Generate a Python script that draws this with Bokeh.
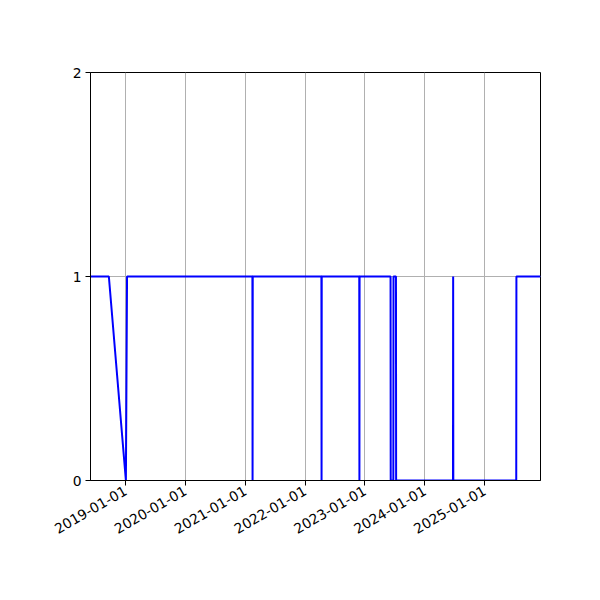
import math
import pandas as pd
from bokeh.plotting import figure
from bokeh.models import Range1d, FixedTicker, DatetimeTickFormatter, ColumnDataSource
from bokeh.embed import file_html
from bokeh.resources import INLINE

# ---- data ----
dates = ["2018-06-01", "2018-09-21", "2019-01-03", "2019-01-10",
         "2021-02-13", "2021-02-14", "2021-02-15",
         "2022-04-10", "2022-04-11", "2022-04-12",
         "2022-11-27", "2022-11-28", "2022-11-29",
         "2023-06-06", "2023-06-07", "2023-06-23", "2023-06-24",
         "2023-07-09", "2023-07-10",
         "2024-06-21", "2024-06-22", "2024-06-23",
         "2025-07-12", "2025-07-13", "2025-12-07"]
values = [1, 1, 0, 1,
          1, 0, 1,
          1, 0, 1,
          1, 0, 1,
          1, 0, 0, 1,
          1, 0,
          0, 1, 0,
          0, 1, 1]
x_tick_dates = ["2019-01-01", "2020-01-01", "2021-01-01", "2022-01-01",
                "2023-01-01", "2024-01-01", "2025-01-01"]
y_ticks = [0, 1, 2]
x_start, x_end = "2018-06-01", "2025-12-07"

xd = pd.to_datetime(dates)
src = ColumnDataSource(dict(x=xd, y=values))

def ms(d):
    return pd.Timestamp(d).value / 1e6

p = figure(width=584, height=584, x_axis_type="datetime",
           output_backend="svg", toolbar_location=None,
           x_range=Range1d(ms(x_start), ms(x_end)), y_range=Range1d(0, 2),
           min_border_left=90, min_border_right=44,
           min_border_top=72, min_border_bottom=104)
p.background_fill_color = "white"
p.border_fill_color = "white"
p.outline_line_color = "black"
p.outline_line_width = 1

p.line("x", "y", source=src, line_color="#0000ff", line_width=2)

p.xaxis.ticker = FixedTicker(ticks=[ms(d) for d in x_tick_dates])
fmt = "%Y-%m-%d"
p.xaxis.formatter = DatetimeTickFormatter(
    milliseconds=fmt, seconds=fmt, minsec=fmt, minutes=fmt, hourmin=fmt,
    hours=fmt, days=fmt, months=fmt, years=fmt)
p.xaxis.major_label_orientation = math.pi / 6
p.yaxis.ticker = FixedTicker(ticks=y_ticks)

for ax in (p.xaxis, p.yaxis):
    ax.axis_line_color = "black"
    ax.axis_line_width = 1
    ax.major_tick_line_color = "black"
    ax.major_tick_in = 0
    ax.major_tick_out = 5
    ax.minor_tick_line_color = None
    ax.major_label_text_font = "DejaVu Sans"
    ax.major_label_text_font_size = "13.9px"
    ax.major_label_text_color = "black"
    ax.major_label_standoff = 4

p.xgrid.grid_line_color = "#b0b0b0"
p.ygrid.grid_line_color = "#b0b0b0"
p.xgrid.grid_line_width = 1
p.ygrid.grid_line_width = 1
p.xgrid.ticker = p.xaxis.ticker
p.ygrid.ticker = p.yaxis.ticker

open("out.html", "w").write(file_html(p, INLINE))
